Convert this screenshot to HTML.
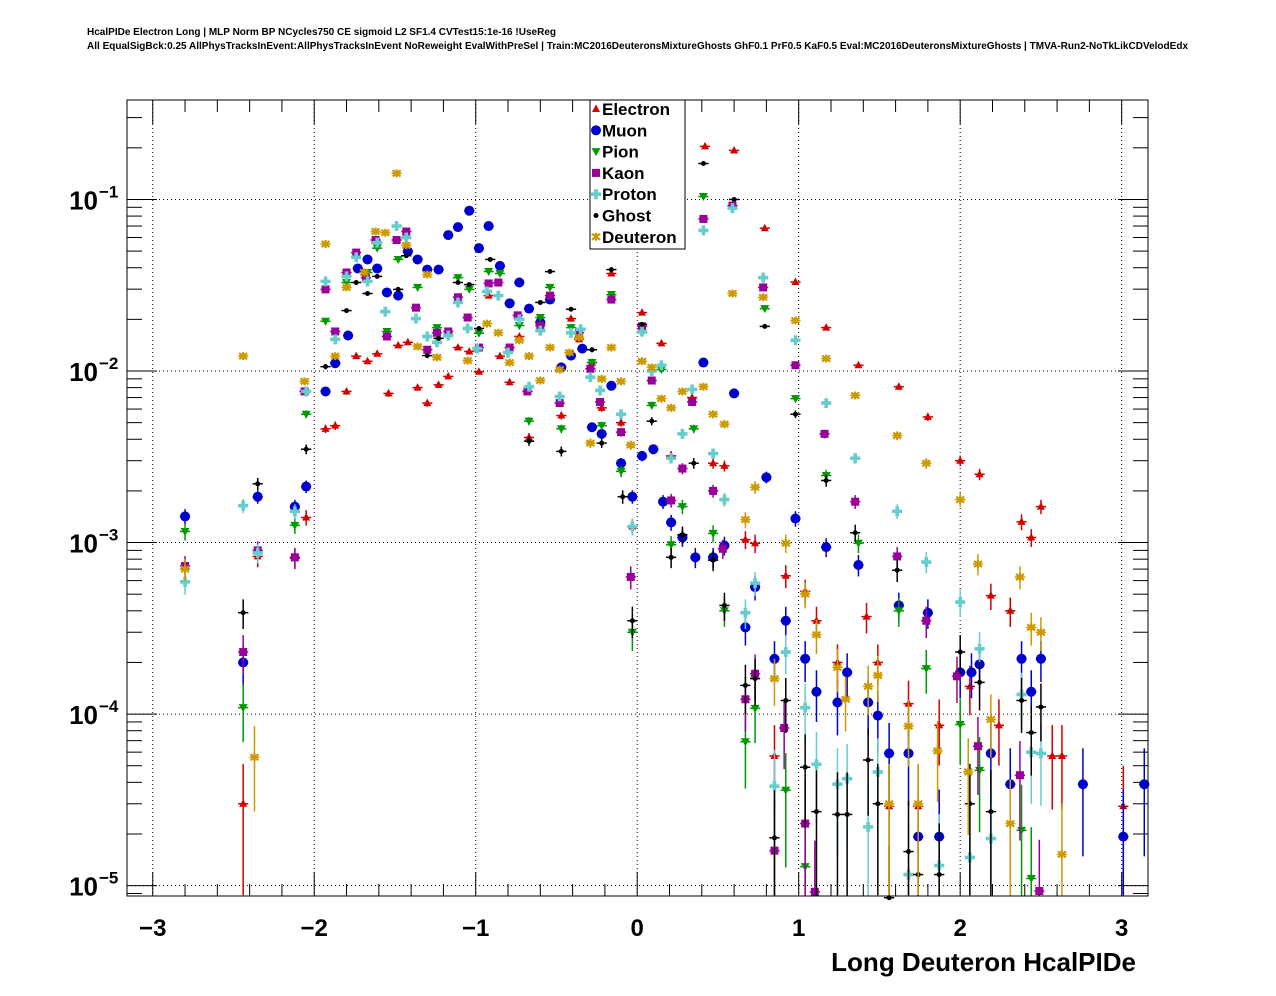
<!DOCTYPE html>
<html><head><meta charset="utf-8">
<style>
body{margin:0;background:#fff;}
svg{display:block;font-family:"Liberation Sans",Arial,sans-serif;}
</style></head>
<body>
<svg id="chart" width="1276" height="996" viewBox="0 0 1276 996">
<rect width="1276" height="996" fill="#fff"/>
<text x="87" y="35" font-size="10" font-weight="bold" textLength="469">HcalPIDe Electron Long | MLP Norm BP NCycles750 CE sigmoid L2 SF1.4 CVTest15:1e-16 !UseReg</text>
<text x="87" y="49" font-size="10" font-weight="bold" textLength="1101">All EqualSigBck:0.25 AllPhysTracksInEvent:AllPhysTracksInEvent NoReweight EvalWithPreSel | Train:MC2016DeuteronsMixtureGhosts GhF0.1 PrF0.5 KaF0.5 Eval:MC2016DeuteronsMixtureGhosts | TMVA-Run2-NoTkLikCDVelodEdx</text>
<g id="grid"></g>
<g id="axes"></g>
<g id="marks"></g>
<rect x="127" y="100" width="1021" height="796" fill="none" stroke="#000" stroke-width="1"/>
<text x="1136" y="971" font-size="26" font-weight="bold" text-anchor="end">Long Deuteron HcalPIDe</text>
<g id="legend"></g>
</svg>
<script>
const seriesNames = ["Electron","Muon","Pion","Kaon","Proton","Ghost","Deuteron"];
const xTickLabels = ["\u22123","\u22122","\u22121","0","1","2","3"];
const xTickValues = [-3,-2,-1,0,1,2,3];
const yTickExponents = [-1,-2,-3,-4,-5];

const electronX = [-2.44,-2.35,-2.12,-2.05,-1.93,-1.87,-1.80,-1.74,-1.67,-1.61,-1.54,-1.48,-1.42,-1.36,-1.30,-1.23,-1.17,-1.11,-1.04,-0.98,-0.92,-0.85,-0.79,-0.73,-0.67,-0.54,-0.47,-0.41,-0.36,-0.28,-0.22,-0.16,-0.10,-0.03,0.03,0.15,0.21,0.34,0.47,0.54,0.42,0.60,0.67,0.73,0.79,0.85,0.92,0.98,1.04,1.11,1.17,1.24,1.37,1.42,1.49,1.56,1.62,1.68,1.74,1.80,1.87,2.00,2.06,2.12,2.19,2.24,2.31,2.38,2.44,2.50,2.57,2.63,3.01];
const electronY = [3.0e-5,8.3e-4,8.1e-4,1.4e-3,4.6e-3,4.8e-3,7.6e-3,1.22e-2,1.14e-2,1.26e-2,7.4e-3,1.41e-2,1.47e-2,8.0e-3,6.5e-3,8.3e-3,9.3e-3,1.37e-2,1.30e-2,9.9e-3,2.75e-2,1.22e-2,8.6e-3,1.59e-2,4.1e-3,2.75e-2,5.5e-3,2.02e-2,1.53e-2,1.12e-2,6.1e-3,3.7e-2,5.0e-3,1.24e-3,2.19e-2,1.45e-2,3.2e-3,7.0e-3,2.9e-3,2.8e-3,0.204,0.193,1.04e-3,9.9e-4,6.8e-2,5.7e-5,6.4e-4,3.3e-2,5.2e-4,3.5e-4,1.79e-2,2.0e-4,1.08e-2,3.7e-4,2.0e-4,2.9e-5,8.1e-3,1.15e-4,2.9e-5,5.4e-3,8.6e-5,3.0e-3,1.45e-4,2.5e-3,4.9e-4,8.6e-5,4.0e-4,1.32e-3,1.07e-3,1.62e-3,5.7e-5,5.7e-5,2.9e-5];

const muonX = [-2.80,-2.44,-2.35,-2.12,-2.05,-1.93,-1.87,-1.79,-1.73,-1.67,-1.61,-1.55,-1.48,-1.42,-1.36,-1.30,-1.23,-1.17,-1.11,-1.04,-0.98,-0.92,-0.85,-0.79,-0.73,-0.67,-0.60,-0.54,-0.47,-0.41,-0.34,-0.28,-0.22,-0.16,-0.10,-0.03,0.03,0.10,0.16,0.21,0.28,0.36,0.41,0.47,0.54,0.60,0.67,0.73,0.80,0.85,0.92,0.98,1.04,1.11,1.17,1.24,1.30,1.37,1.43,1.49,1.56,1.62,1.68,1.74,1.80,1.87,2.00,2.07,2.12,2.19,2.31,2.38,2.44,2.50,2.76,3.01,3.14];
const muonY = [1.42e-3,2.0e-4,1.85e-3,1.62e-3,2.12e-3,7.6e-3,1.11e-2,1.61e-2,3.96e-2,4.47e-2,3.96e-2,2.87e-2,2.75e-2,4.98e-2,4.47e-2,3.9e-2,3.9e-2,6.2e-2,6.9e-2,8.6e-2,5.2e-2,7.0e-2,4.1e-2,2.48e-2,3.28e-2,2.31e-2,1.92e-2,2.61e-2,1.05e-2,1.23e-2,1.35e-2,4.7e-3,4.3e-3,8.2e-3,2.9e-3,1.85e-3,3.2e-3,3.5e-3,1.73e-3,1.31e-3,1.07e-3,8.2e-4,1.12e-2,8.2e-4,9.6e-4,7.4e-3,3.2e-4,5.5e-4,2.4e-3,2.1e-4,3.5e-4,1.38e-3,2.1e-4,1.35e-4,9.4e-4,1.17e-4,1.75e-4,7.4e-4,1.17e-4,9.8e-5,5.9e-5,4.3e-4,5.9e-5,1.93e-5,3.9e-4,1.93e-5,1.75e-4,1.75e-4,1.95e-4,5.9e-5,3.9e-5,2.1e-4,1.35e-4,2.1e-4,3.9e-5,1.93e-5,3.9e-5];

const pionX = [-2.80,-2.44,-2.12,-2.05,-1.93,-1.80,-1.67,-1.61,-1.55,-1.48,-1.36,-1.24,-1.11,-1.04,-0.98,-0.92,-0.85,-0.73,-0.67,-0.60,-0.54,-0.47,-0.41,-0.28,-0.22,-0.16,-0.10,-0.03,0.03,0.09,0.15,0.21,0.28,0.35,0.41,0.47,0.54,0.67,0.73,0.79,0.92,0.98,1.04,1.17,1.37,1.62,1.79,2.00,2.12,2.38,2.44];
const pionY = [1.16e-3,1.09e-4,1.26e-3,5.6e-3,1.95e-2,3.28e-2,3.75e-2,5.2e-2,1.7e-2,4.47e-2,3.07e-2,1.79e-2,3.5e-2,2.99e-2,1.66e-2,3.8e-2,3.7e-2,1.84e-2,5.1e-3,2.05e-2,3.07e-2,4.6e-3,1.79e-2,1.12e-2,4.8e-3,2.79e-2,2.6e-3,3.0e-4,1.67e-2,6.3e-3,1.02e-2,9.7e-4,1.62e-3,4.6e-3,0.104,1.13e-3,4.0e-4,6.9e-5,1.08e-4,2.31e-2,3.6e-5,6.9e-3,1.29e-5,2.46e-3,9.9e-4,4.0e-4,1.84e-4,8.7e-5,4.7e-5,2.1e-5,1.1e-5];

const kaonX = [-2.80,-2.44,-2.35,-2.12,-2.06,-1.93,-1.87,-1.80,-1.74,-1.68,-1.62,-1.55,-1.49,-1.43,-1.37,-1.30,-1.24,-1.17,-1.11,-1.05,-0.98,-0.92,-0.86,-0.79,-0.74,-0.68,-0.60,-0.54,-0.48,-0.36,-0.29,-0.23,-0.16,-0.10,-0.04,0.03,0.09,0.21,0.28,0.34,0.41,0.47,0.53,0.59,0.67,0.73,0.78,0.85,0.91,0.98,1.04,1.10,1.16,1.35,1.61,1.79,1.98,2.11,2.37,2.49];
const kaonY = [7.3e-4,2.3e-4,9.0e-4,8.2e-4,7.6e-3,2.99e-2,1.7e-2,3.75e-2,4.9e-2,3.5e-2,5.8e-2,1.59e-2,5.8e-2,6.5e-2,2.34e-2,1.33e-2,1.67e-2,1.7e-2,2.69e-2,2.05e-2,1.37e-2,3.24e-2,3.28e-2,1.37e-2,2.11e-2,7.6e-3,1.84e-2,2.75e-2,6.5e-3,1.67e-2,1.03e-2,6.6e-3,2.61e-2,4.4e-3,6.3e-4,1.82e-2,8.8e-3,1.76e-3,2.7e-3,6.6e-3,7.7e-2,2.0e-3,9.2e-4,9.2e-2,1.22e-4,1.72e-4,3.07e-2,1.6e-5,8.3e-5,1.08e-2,2.3e-5,9.2e-6,4.3e-3,1.73e-3,8.3e-4,3.5e-4,1.66e-4,6.5e-5,4.4e-5,9.3e-6];

const protonX = [-2.80,-2.44,-2.35,-2.12,-2.05,-1.93,-1.87,-1.80,-1.74,-1.67,-1.61,-1.56,-1.49,-1.43,-1.37,-1.30,-1.24,-1.17,-1.11,-1.05,-0.99,-0.93,-0.86,-0.80,-0.73,-0.67,-0.60,-0.48,-0.41,-0.35,-0.29,-0.23,-0.10,-0.03,0.03,0.09,0.15,0.21,0.28,0.34,0.41,0.47,0.54,0.59,0.67,0.73,0.78,0.85,0.92,0.98,1.04,1.11,1.17,1.24,1.30,1.35,1.43,1.49,1.61,1.68,1.79,1.87,2.00,2.06,2.12,2.19,2.38,2.44,2.50];
const protonY = [5.9e-4,1.64e-3,8.7e-4,1.52e-3,7.6e-3,3.33e-2,1.53e-2,3.56e-2,4.6e-2,3.33e-2,5.6e-2,2.22e-2,7.0e-2,6.0e-2,2.02e-2,1.59e-2,1.47e-2,1.61e-2,2.51e-2,1.77e-2,1.35e-2,2.91e-2,2.75e-2,1.28e-2,2.0e-2,8.1e-3,1.72e-2,7.1e-3,1.67e-2,1.75e-2,9.2e-3,7.7e-3,5.6e-3,1.24e-3,1.7e-2,1.0e-2,1.08e-2,3.1e-3,4.3e-3,7.8e-3,6.6e-2,3.3e-3,1.78e-3,8.9e-2,3.9e-4,5.8e-4,3.5e-2,3.8e-5,2.3e-4,1.51e-2,1.09e-4,5.1e-5,6.5e-3,3.9e-5,4.2e-5,3.1e-3,2.2e-5,4.6e-5,1.52e-3,1.16e-5,7.7e-4,1.31e-5,4.5e-4,1.46e-5,2.4e-4,1.88e-5,1.3e-4,6.0e-5,5.9e-5];

const ghostX = [-2.44,-2.35,-2.05,-1.93,-1.80,-1.74,-1.67,-1.61,-1.48,-1.43,-1.30,-1.23,-1.11,-1.04,-0.98,-0.91,-0.67,-0.60,-0.54,-0.47,-0.41,-0.28,-0.22,-0.16,-0.09,-0.03,0.03,0.09,0.21,0.28,0.35,0.41,0.47,0.54,0.60,0.67,0.73,0.79,0.85,0.92,0.98,1.04,1.11,1.17,1.24,1.30,1.35,1.43,1.49,1.56,1.61,1.68,1.74,1.87,2.00,2.06,2.12,2.19,2.38,2.44,2.50];
const ghostY = [3.9e-4,2.2e-3,3.5e-3,1.06e-2,2.25e-2,3.28e-2,2.83e-2,3.56e-2,2.99e-2,4.7e-2,1.23e-2,1.55e-2,3.28e-2,3.19e-2,1.77e-2,4.47e-2,3.9e-3,2.51e-2,3.8e-2,3.4e-3,2.29e-2,1.33e-2,3.8e-3,3.9e-2,1.85e-3,3.5e-4,1.87e-2,5.1e-3,8.2e-4,1.11e-3,2.9e-3,0.162,7.9e-4,4.3e-4,0.1,1.47e-4,1.61e-4,1.82e-2,1.9e-5,1.2e-4,5.6e-3,4.9e-5,2.7e-5,2.3e-3,2.6e-5,2.6e-5,1.14e-3,5.4e-5,3.0e-5,8.5e-6,6.9e-4,1.58e-5,1.16e-5,1.16e-5,2.3e-4,3.0e-5,1.53e-4,2.7e-5,1.2e-4,7.8e-5,1.1e-4];

const deuteronX = [-2.80,-2.44,-2.37,-2.06,-1.93,-1.87,-1.80,-1.69,-1.62,-1.56,-1.49,-1.43,-1.36,-1.30,-1.24,-1.05,-0.93,-0.86,-0.79,-0.73,-0.67,-0.60,-0.54,-0.48,-0.42,-0.36,-0.29,-0.22,-0.16,-0.10,-0.04,0.03,0.09,0.15,0.21,0.28,0.41,0.47,0.54,0.59,0.67,0.73,0.78,0.85,0.92,0.98,1.04,1.11,1.17,1.24,1.29,1.35,1.43,1.49,1.56,1.61,1.68,1.74,1.79,1.86,2.00,2.05,2.11,2.19,2.31,2.37,2.44,2.50,2.63];
const deuteronY = [7.0e-4,1.22e-2,5.6e-5,8.7e-3,5.5e-2,1.22e-2,3.07e-2,3.75e-2,6.5e-2,6.4e-2,0.142,5.4e-2,1.39e-2,3.65e-2,1.2e-2,1.15e-2,1.89e-2,1.67e-2,1.12e-2,1.51e-2,1.22e-2,8.8e-3,1.37e-2,1.02e-2,1.28e-2,1.57e-2,3.8e-3,9.0e-3,1.37e-2,8.7e-3,3.7e-3,1.14e-2,1.05e-2,6.9e-3,6.1e-3,7.6e-3,8.1e-3,5.6e-3,4.9e-3,2.83e-2,1.36e-3,2.1e-3,2.69e-2,1.61e-4,9.9e-4,1.97e-2,5.0e-4,2.9e-4,1.18e-2,1.87e-4,1.22e-4,7.2e-3,1.45e-4,1.68e-4,3.0e-5,4.2e-3,8.5e-5,3.0e-5,2.9e-3,6.1e-5,1.78e-3,4.6e-5,7.5e-4,9.3e-5,2.3e-5,6.3e-4,3.2e-4,3.0e-4,1.52e-5];

const NS="http://www.w3.org/2000/svg";
const L=127,R=1148,T=100,B=896;
const xMin=-3.1594,xMax=3.163;
const logMin=Math.log10(8.7e-6),logMax=Math.log10(0.38);
function sx(v){return L+(v-xMin)/(xMax-xMin)*(R-L);}
function sy(v){return B-(Math.log10(v)-logMin)/(logMax-logMin)*(B-T);}
function el(tag,attrs,parent){const e=document.createElementNS(NS,tag);for(const k in attrs)e.setAttribute(k,attrs[k]);parent.appendChild(e);return e;}

const grid=document.getElementById('grid');
const axes=document.getElementById('axes');
xTickValues.forEach((v,i)=>{
  const x=sx(v);
  const g=el('line',{x1:x,x2:x,y1:T,y2:B,stroke:'#000','stroke-width':1,'stroke-dasharray':'1,3'},grid);
  
  
  const t=el('text',{x:x,y:936,'font-size':24,'font-weight':'bold','text-anchor':'middle'},axes);
  t.textContent=xTickLabels[i];
  
  
});
for(let k=-16;k<=16;k++){
  const v=k*0.2; if(v<xMin||v>xMax) continue;
  const x=sx(v); const major=Math.abs(v-Math.round(v))<1e-6; const len=major?24:12;
  el('line',{x1:x,x2:x,y1:B,y2:B-len,stroke:'#000','stroke-width':1},axes);
  el('line',{x1:x,x2:x,y1:T,y2:T+len,stroke:'#000','stroke-width':1},axes);
}
yTickExponents.forEach(e=>{
  const y=sy(Math.pow(10,e));
  const g=el('line',{x1:L,x2:R,y1:y,y2:y,stroke:'#000','stroke-width':1,'stroke-dasharray':'1,3'},grid);
  
  
  const t=el('text',{x:98,y:y+10,'font-size':26,'font-weight':'bold','text-anchor':'end'},axes);
  t.textContent='10';
  
  
  const s=el('text',{x:99,y:y-2,'font-size':17,'font-weight':'bold'},axes);
  s.textContent='\u2212'+Math.abs(e);
});
for(let e=-6;e<=0;e++){for(let m=1;m<10;m++){
  const v=m*Math.pow(10,e); if(v<8.7e-6||v>0.38) continue;
  const y=sy(v); const len=m===1?30:15;
  el('line',{x1:L,x2:L+len,y1:y,y2:y,stroke:'#000','stroke-width':1},axes);
  el('line',{x1:R,x2:R-len,y1:y,y2:y,stroke:'#000','stroke-width':1},axes);
}}

const colors=['#d40000','#0000cc','#009900','#990099','#66cccc','#000000','#cc9900'];
function marker(type,x,y,c,parent){
  if(type===0) return el('polygon',{points:`${x},${y-4.5} ${x-4},${y+3} ${x+4},${y+3}`,fill:c},parent);
  if(type===1) return el('circle',{cx:x,cy:y,r:5,fill:c},parent);
  if(type===2) return el('polygon',{points:`${x},${y+4.5} ${x-4.5},${y-3.5} ${x+4.5},${y-3.5}`,fill:c},parent);
  if(type===3) return el('rect',{x:x-4,y:y-4,width:8,height:8,fill:c},parent);
  if(type===4) return el('path',{d:`M${x-1.8} ${y-5}h3.6v3.2h3.2v3.6h-3.2v3.2h-3.6v-3.2h-3.2v-3.6h3.2z`,fill:c},parent);
  if(type===5) return el('circle',{cx:x,cy:y,r:2.5,fill:c},parent);
  return el('path',{d:`M${x-4} ${y-3}L${x+4} ${y+3}M${x-4} ${y+3}L${x+4} ${y-3}M${x} ${y-4}V${y+4}`,stroke:c,'stroke-width':2.2},parent);
}
const allX=[electronX,muonX,pionX,kaonX,protonX,ghostX,deuteronX];
const allY=[electronY,muonY,pionY,kaonY,protonY,ghostY,deuteronY];
const marks=document.getElementById('marks');
const hw=(R-L)/100/2;
allX.forEach((xs,si)=>{
  const g=el('g',{},marks);
  
  
  xs.forEach((xv,i)=>{
    const v=allY[si][i]; const x=sx(xv), y=sy(v);
    const rel=Math.min(0.99,Math.sqrt(1.5e-5*0.1/v)*Math.sqrt(10));
    const y1=Math.min(B,sy(v*Math.max(0.001,1-rel))), y2=Math.max(T,sy(v*(1+rel)));
    el('line',{x1:x-hw,x2:x+hw,y1:y,y2:y,stroke:colors[si],'stroke-width':1.5},g);
    el('line',{x1:x,x2:x,y1:y1,y2:y2,stroke:colors[si],'stroke-width':1.5},g);
    const m=marker(si,x,y,colors[si],g);
    
    
  });
});
const lg=document.getElementById('legend');
el('rect',{x:590,y:100,width:95,height:149,fill:'#fff',stroke:'#000','stroke-width':1},lg);
seriesNames.forEach((n,i)=>{
  const y=109+i*21.3;
  const g=el('g',{},lg);
  
  
  marker(i,596,y,colors[i],g);
  const t=el('text',{x:602,y:y+6,'font-size':17,'font-weight':'bold'},g);
  t.textContent=n;
});
</script>
</body></html>
